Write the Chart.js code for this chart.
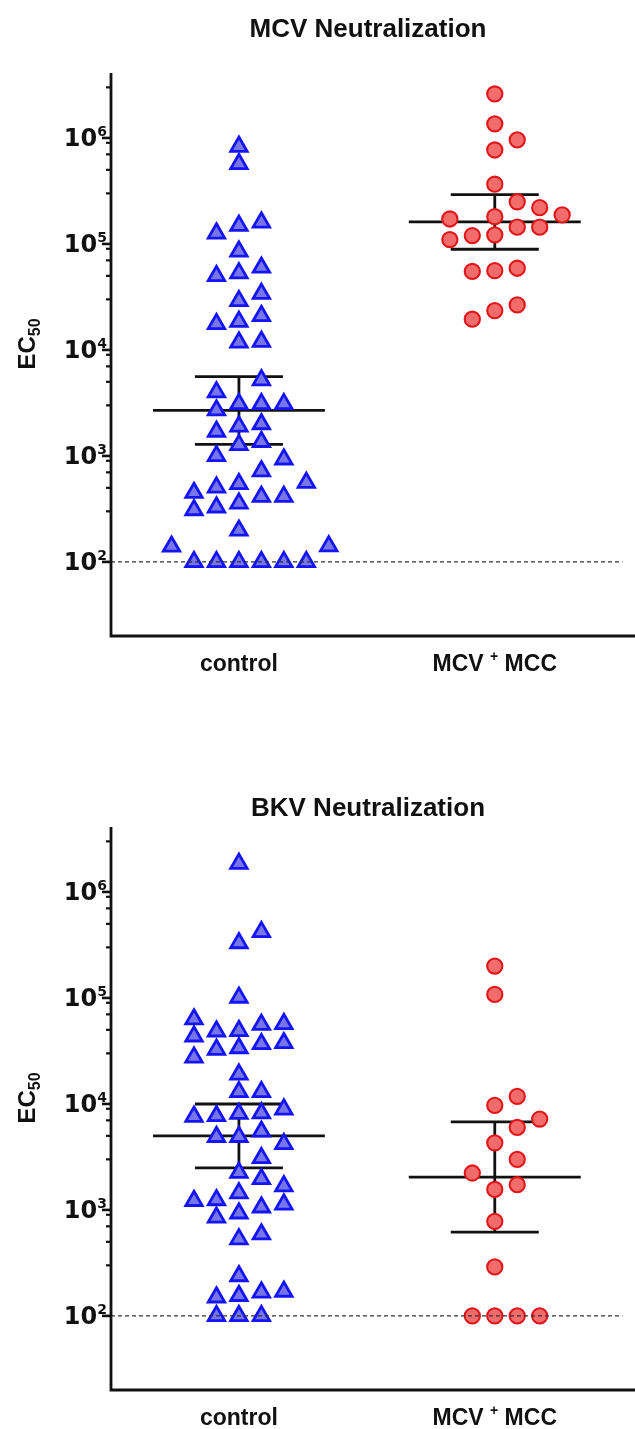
<!DOCTYPE html>
<html><head><meta charset="utf-8">
<script src="https://cdn.jsdelivr.net/npm/chart.js@4.4.1/dist/chart.umd.min.js"></script>
<style>
html,body{margin:0;padding:0;background:#fff;}
body{width:635px;height:1429px;position:relative;overflow:hidden}
canvas{position:absolute;left:0}
</style></head><body>
<canvas id="c1" width="635" height="700" style="top:0px;width:635px;height:700px"></canvas>
<canvas id="c2" width="635" height="689" style="top:740px;width:635px;height:689px"></canvas>
<script>
// ---------------- data ----------------
const titles = ['MCV Neutralization', 'BKV Neutralization'];
const categories = ['control', 'MCV ^+ MCC'];
const yAxisTitle = 'EC_50';
const majorTickValues = [1e2, 1e3, 1e4, 1e5, 1e6];
const minorTickMultipliers = [3, 5, 7, 9];
const detectionLimit = 100;
const yMin = 20, yMax = 4.1e6;

const mcvControl = [830000, 570000, 160000, 149000, 126000, 85000, 60000, 53000, 50000, 34000,
  29000, 21000, 18500, 17600, 12000, 11800, 5200, 4000, 3100, 3100, 3100, 2700, 2000, 1900,
  1700, 1360, 1270, 1000, 930, 720, 560, 545, 505, 450, 413, 413, 357, 328, 309, 198, 141, 140,
  100, 100, 100, 100, 100, 100];
const mcvMCC = [2600000, 1360000, 960000, 770000, 366000, 250000, 220000, 188000, 181000, 172000,
  144000, 144000, 122000, 120000, 110000, 59000, 56000, 55000, 26600, 23500, 19500];
const bkvControl = [1850000, 420000, 330000, 101000, 63000, 57000, 56000, 49000, 48500, 43500,
  37600, 36800, 33700, 32600, 27500, 19000, 13000, 13000, 8900, 8200, 8100, 7700, 7600, 5500,
  4900, 4900, 4200, 3100, 2250, 1960, 1680, 1440, 1240, 1220, 1130, 1060, 930, 850, 590, 530,
  238, 170, 167, 155, 150, 100, 100, 100];
const bkvMCC = [200000, 108000, 11800, 9700, 7200, 6000, 4300, 3000, 2230, 1730, 1560, 780, 290,
  100, 100, 100, 100];

// ---------------- helpers ----------------
const FONT = '"Liberation Sans", Arial, sans-serif';
const TICKFONT = '"DejaVu Sans", sans-serif';
const SLOT = 0.0878;        // horizontal spacing of swarm columns (x units)
const ROW_THR = 0.14;       // decades grouped into one swarm row
const MIN_SEP = 0.16;       // min vertical separation (decades) inside one column
const MEAN_HALF = 0.336, CAP_HALF = 0.172;

function tQuantile975(df) {
  const z = 1.959964, z3 = z ** 3, z5 = z ** 5, z7 = z ** 7;
  return z + (z3 + z) / (4 * df) + (5 * z5 + 16 * z3 + 3 * z) / (96 * df * df)
    + (3 * z7 + 19 * z5 + 17 * z3 - 15 * z) / (384 * df ** 3);
}
function geoMeanCI(vals) {
  const l = vals.map(Math.log10), n = l.length;
  const m = l.reduce((a, b) => a + b, 0) / n;
  const sd = Math.sqrt(l.reduce((a, b) => a + (b - m) ** 2, 0) / (n - 1));
  const h = tQuantile975(n - 1) * sd / Math.sqrt(n);
  return { gm: 10 ** m, lo: 10 ** (m - h), hi: 10 ** (m + h) };
}
// column scatter: rows built from the lowest value upward, symmetric columns, nudged outward on overlap
function swarm(vals, center) {
  const idx = vals.map((v, i) => i).sort((a, b) => vals[a] - vals[b]);
  const placed = [], pts = [];
  const hit = (s, l) => placed.some(p => p.s === s && Math.abs(p.l - l) < MIN_SEP);
  let i = 0;
  while (i < idx.length) {
    const start = Math.log10(vals[idx[i]]);
    const row = [idx[i]]; i++;
    while (i < idx.length && Math.log10(vals[idx[i]]) - start < ROW_THR) { row.push(idx[i]); i++; }
    const first = -Math.floor((row.length - 1) / 2);
    row.forEach((k, j) => {
      const l = Math.log10(vals[k]);
      let s = first + j;
      if (hit(s, l)) {
        const dir = s < 0 ? -1 : 1;
        for (let d = 1; d < 10; d++) {
          if (!hit(s + dir * d, l)) { s = s + dir * d; break; }
          if (!hit(s - dir * d, l)) { s = s - dir * d; break; }
        }
      }
      placed.push({ s, l });
      pts.push({ x: center + s * SLOT, y: vals[k] });
    });
  }
  return pts;
}
function richParts(str) {
  const parts = []; const re = /\^(\S+)|_(\d+)/g; let last = 0, m;
  while ((m = re.exec(str))) {
    if (m.index > last) parts.push({ t: str.slice(last, m.index), k: 0 });
    parts.push(m[1] !== undefined ? { t: m[1], k: 1 } : { t: m[2], k: -1 });
    last = re.lastIndex;
  }
  if (last < str.length) parts.push({ t: str.slice(last), k: 0 });
  return parts;
}
function drawRich(ctx, str, x, y, size, family, align, supScale) {
  const parts = richParts(str);
  const small = Math.round(size * (supScale || 0.62));
  let w = 0;
  parts.forEach(p => { ctx.font = `bold ${p.k ? small : size}px ${family}`; p.w = ctx.measureText(p.t).width; w += p.w; });
  let cx = align === 'center' ? x - w / 2 : align === 'right' ? x - w : x;
  ctx.textAlign = 'left'; ctx.textBaseline = 'alphabetic';
  parts.forEach(p => {
    ctx.font = `bold ${p.k ? small : size}px ${family}`;
    const dy = p.k === 1 ? -size * 0.42 : p.k === -1 ? size * 0.22 : 0;
    ctx.fillText(p.t, cx, y + dy); cx += p.w;
  });
}

const axesPlugin = {
  id: 'axesText',
  afterDraw(chart, args, opts) {
    const { ctx, chartArea: a, scales: { x, y } } = chart;
    ctx.save();
    ctx.strokeStyle = '#111'; ctx.fillStyle = '#111';
    const seg = (x1, y1, x2, y2, w) => { ctx.lineWidth = w; ctx.beginPath(); ctx.moveTo(x1, y1); ctx.lineTo(x2, y2); ctx.stroke(); };
    ctx.lineWidth = 2.8; ctx.lineJoin = 'miter';
    ctx.beginPath(); ctx.moveTo(a.left, a.top); ctx.lineTo(a.left, a.bottom); ctx.lineTo(chart.width, a.bottom); ctx.stroke();
    majorTickValues.forEach(v => {
      const py = y.getPixelForValue(v);
      seg(a.left - 9, py, a.left, py, 2.6);
      drawRich(ctx, '10^' + Math.round(Math.log10(v)), a.left - 4, py + 8.5, 24, TICKFONT, 'right', 0.6);
    });
    for (let e = 2; e <= 6; e++) minorTickMultipliers.forEach(mu => {
      const v = mu * 10 ** e;
      if (v <= yMax) { const py = y.getPixelForValue(v); seg(a.left - 5, py, a.left, py, 2.2); }
    });
    categories.forEach((c, i) => drawRich(ctx, c, x.getPixelForValue(i + 1), a.bottom + 35, 23, FONT, 'center', 0.6));
    drawRich(ctx, opts.title, 368, opts.titleBaseline, 26, FONT, 'center');
    ctx.save();
    ctx.translate(27, y.getPixelForValue(1e4) - 6);
    ctx.rotate(-Math.PI / 2);
    drawRich(ctx, yAxisTitle, 0, 8, 24, FONT, 'center', 0.66);
    ctx.restore();
    ctx.restore();
  }
};

function lineDs(pts, extra) {
  return Object.assign({ type: 'line', data: pts, borderColor: '#111', borderWidth: 2.8,
    pointRadius: 0, pointHoverRadius: 0, fill: false, tension: 0, order: 1 }, extra || {});
}
function errorDatasets(vals, c) {
  const s = geoMeanCI(vals);
  return [
    lineDs([{ x: c - MEAN_HALF, y: s.gm }, { x: c + MEAN_HALF, y: s.gm }]),
    lineDs([{ x: c, y: s.lo }, { x: c, y: s.hi }]),
    lineDs([{ x: c - CAP_HALF, y: s.hi }, { x: c + CAP_HALF, y: s.hi }]),
    lineDs([{ x: c - CAP_HALF, y: s.lo }, { x: c + CAP_HALF, y: s.lo }])
  ];
}

function makeChart(id, H, areaTop, titleIdx, titleBaseline, controlVals, mccVals) {
  const areaBottom = areaTop + 563;
  const datasets = [
    lineDs([{ x: 0.5, y: detectionLimit }, { x: 2.5, y: detectionLimit }],
      { borderColor: '#333', borderWidth: 1.1, borderDash: [4, 3], order: -1 }),
    { type: 'scatter', data: swarm(controlVals, 1), pointStyle: 'triangle', pointRadius: 9.5,
      pointHoverRadius: 9.5, backgroundColor: '#7676e8', borderColor: '#1414f4', borderWidth: 2.8, order: 0 },
    { type: 'scatter', data: swarm(mccVals, 2), pointStyle: 'circle', pointRadius: 7.6,
      pointHoverRadius: 7.6, backgroundColor: '#f26c6c', borderColor: '#e0161b', borderWidth: 2.1, order: 0 },
    ...errorDatasets(controlVals, 1),
    ...errorDatasets(mccVals, 2)
  ];
  return new Chart(document.getElementById(id), {
    type: 'scatter',
    data: { datasets },
    options: {
      responsive: false, animation: false, devicePixelRatio: 1, events: [],
      layout: { padding: { left: 111, right: 0, top: areaTop, bottom: H - areaBottom } },
      scales: {
        x: { type: 'linear', min: 0.5, max: 2.5, display: false },
        y: { type: 'logarithmic', min: yMin, max: yMax, display: false }
      },
      plugins: { legend: { display: false }, tooltip: { enabled: false },
        axesText: { title: titles[titleIdx], titleBaseline } }
    },
    plugins: [axesPlugin]
  });
}

makeChart('c1', 700, 73, 0, 37, mcvControl, mcvMCC);
makeChart('c2', 689, 87, 1, 76, bkvControl, bkvMCC);
</script>
</body></html>
